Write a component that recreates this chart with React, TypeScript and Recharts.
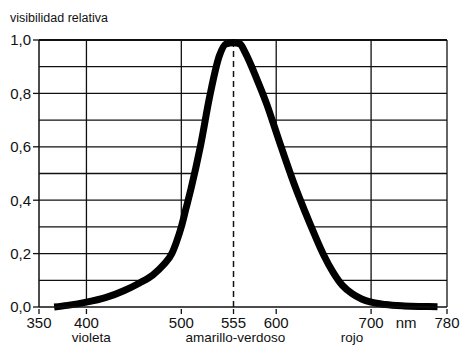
import {
  ComposedChart,
  Area,
  Line,
  XAxis,
  YAxis,
  CartesianGrid,
  ReferenceLine,
} from 'recharts'

// visibilidad relativa (nm, valor)
const wavelengths = [
  366, 380, 400, 420, 440, 456, 470, 481, 490, 495, 500, 505, 510, 520, 530, 540,
  547, 555, 562, 567, 580, 590, 600, 610, 620, 630, 640, 650, 660, 670, 680, 690,
  700, 715, 735, 755, 770,
]
const visibility = [
  0.0, 0.006, 0.018, 0.035, 0.062, 0.09, 0.12, 0.157, 0.2, 0.245, 0.3, 0.37, 0.44,
  0.6, 0.79, 0.94, 0.985, 0.99, 0.985, 0.955, 0.85, 0.76, 0.655, 0.55, 0.45, 0.36,
  0.275, 0.195, 0.13, 0.08, 0.05, 0.03, 0.018, 0.009, 0.004, 0.002, 0.001,
]

const xTicks = [350, 400, 500, 555, 600, 700, 737, 780]
const xTickLabels: Record<number, string> = { 737: 'nm' }
const yTicks = [0, 0.2, 0.4, 0.6, 0.8, 1.0]
const gridY = [0.1, 0.2, 0.3, 0.4, 0.5, 0.6, 0.7, 0.8, 0.9, 1.0]
const gridX = [400, 500, 600, 700, 780]
const bandTicks = [405, 557, 680]
const bandLabels: Record<number, string> = {
  405: 'violeta',
  557: 'amarillo-verdoso',
  680: 'rojo',
}

const data = wavelengths.map((nm, i) => ({ nm, v: visibility[i] }))

const FONT = '"Liberation Sans", Arial, sans-serif'

function XTick(props: any) {
  const { x, y, payload } = props
  const label = xTickLabels[payload.value] ?? String(payload.value)
  const isUnit = payload.value in xTickLabels
  return (
    <g>
      {!isUnit && <line x1={x} x2={x} y1={y - 5} y2={y} stroke="#111" strokeWidth={1.3} />}
      <text x={x} y={y + 3} dy="0.71em" textAnchor="middle" fontSize={15} fill="#111" fontFamily={FONT}>
        {label}
      </text>
    </g>
  )
}

export default function App() {
  return (
    <div style={{ position: 'absolute', left: 0, top: 0, width: 464, height: 355, background: '#fff' }}>
      <div
        style={{
          position: 'absolute',
          left: 10,
          top: 11,
          fontFamily: FONT,
          fontSize: 12.5,
          color: '#111',
        }}
      >
        visibilidad relativa
      </div>
      <ComposedChart
        width={464}
        height={355}
        data={data}
        margin={{ top: 40, right: 17, bottom: 0, left: 0 }}
        style={{ fontFamily: FONT }}
      >
        <CartesianGrid
          horizontalValues={gridY}
          verticalValues={gridX}
          stroke="#111"
          strokeWidth={1.3}
        />
        <XAxis
          dataKey="nm"
          type="number"
          domain={[350, 780]}
          ticks={xTicks}
          tick={<XTick />}
          tickLine={false}
          tickSize={5}
          height={22}
          interval={0}
          axisLine={{ stroke: '#111', strokeWidth: 1.5 }}
        />
        <XAxis
          xAxisId="bands"
          dataKey="nm"
          type="number"
          domain={[350, 780]}
          ticks={bandTicks}
          tickFormatter={(v: number) => bandLabels[v] ?? ''}
          tick={{ fontSize: 13.5, fill: '#111' }}
          tickLine={false}
          axisLine={false}
          tickSize={0}
          tickMargin={3}
          height={26}
          interval={0}
        />
        <YAxis
          type="number"
          domain={[0, 1]}
          ticks={yTicks}
          width={39}
          tickSize={6}
          tickMargin={2}
          tick={{ fontSize: 15, fill: '#111' }}
          tickFormatter={(v: number) => v.toFixed(1).replace('.', ',')}
          tickLine={{ stroke: '#111', strokeWidth: 1.3 }}
          axisLine={{ stroke: '#111', strokeWidth: 1.5 }}
        />
        <ReferenceLine y={1} stroke="#111" strokeWidth={2.2} />
        <Area
          dataKey="v"
          type="monotone"
          stroke="none"
          fill="#fff"
          fillOpacity={1}
          isAnimationActive={false}
        />
        <ReferenceLine x={555} stroke="#111" strokeWidth={1.5} strokeDasharray="6 4" />
        <Line
          dataKey="v"
          type="monotone"
          stroke="#000"
          strokeWidth={7}
          dot={false}
          isAnimationActive={false}
        />
      </ComposedChart>
    </div>
  )
}
